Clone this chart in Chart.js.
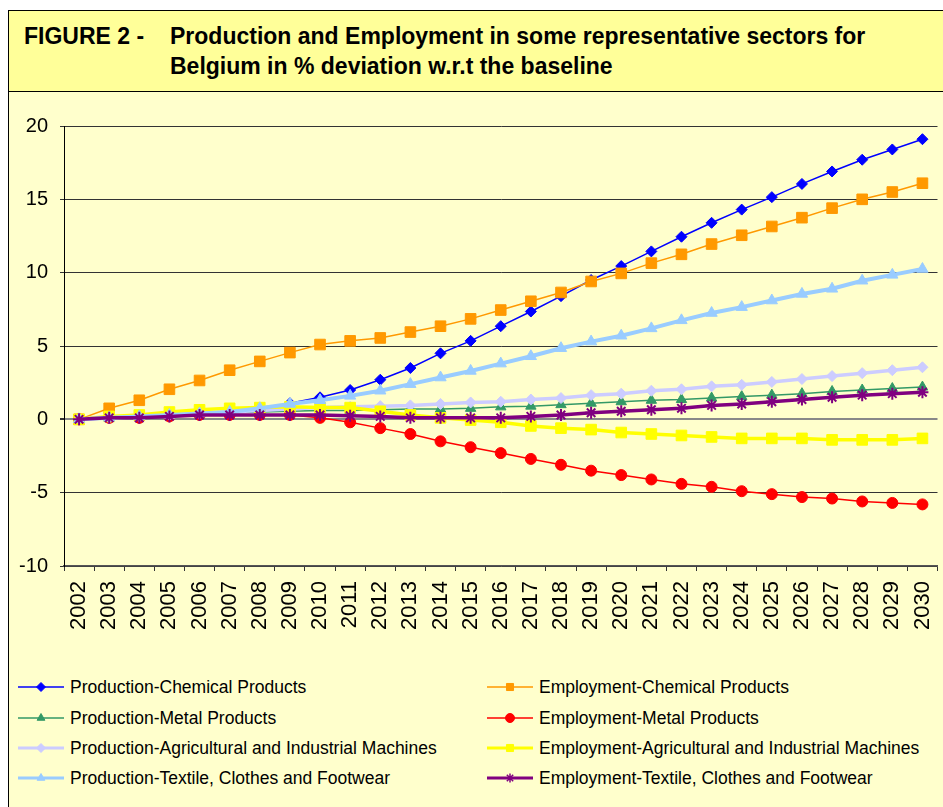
<!DOCTYPE html>
<html>
<head>
<meta charset="utf-8">
<script src="https://cdn.jsdelivr.net/npm/chart.js@4.4.1/dist/chart.umd.min.js"></script>
<style>
  html, body { margin: 0; padding: 0; background: #fff; overflow: hidden; width: 943px; height: 807px; }
  body { font-family: "Liberation Sans", Arial, sans-serif; position: relative; }
  #frame { position: absolute; left: 8px; top: 10px; width: 945px; height: 805px; background: #ffffcc; border-left: 1px solid #000; }
  #titleBox { position: absolute; left: 8px; top: 10px; width: 946px; height: 80px; background: #ffff99; border-top: 1px solid #000; border-bottom: 1px solid #000; border-left: 1px solid #000; }
  #titleLabel, #titleText { position: absolute; font-weight: bold; font-size: 23px; line-height: 30px; color: #000; }
  #titleLabel { left: 15px; top: 10px; }
  #titleText { left: 161px; top: 10px; }
  #chartBox { position: absolute; left: 9px; top: 91px; width: 937px; height: 560px; }
  #legend { position: absolute; left: 0; top: 0; }
  .item { position: absolute; height: 20px; display: flex; align-items: center; font-size: 17.5px; color: #000; white-space: nowrap; }
  .item canvas { margin-right: 6px; }
</style>
</head>
<body>
<div id="frame"></div>
<div id="titleBox">
  <div id="titleLabel">FIGURE 2 -</div>
  <div id="titleText">Production and Employment in some representative sectors for<br>Belgium in % deviation w.r.t the baseline</div>
</div>
<div id="chartBox"><canvas id="chart"></canvas></div>
<div id="legend"></div>
<script>
const years = ['2002', '2003', '2004', '2005', '2006', '2007', '2008', '2009', '2010', '2011',
  '2012', '2013', '2014', '2015', '2016', '2017', '2018', '2019', '2020', '2021',
  '2022', '2023', '2024', '2025', '2026', '2027', '2028', '2029', '2030'];

const prodChemical = [0, 0.1, 0.2, 0.3, 0.4, 0.5, 0.7, 1.1, 1.5, 2.0, 2.7, 3.5, 4.5, 5.35, 6.35,
  7.35, 8.4, 9.5, 10.45, 11.45, 12.45, 13.4, 14.3, 15.15, 16.05, 16.9, 17.7, 18.4, 19.1];
const empChemical = [0, 0.75, 1.3, 2.05, 2.65, 3.35, 3.95, 4.55, 5.1, 5.35, 5.55, 5.95, 6.35, 6.85, 7.45,
  8.05, 8.65, 9.4, 9.95, 10.65, 11.25, 11.95, 12.55, 13.15, 13.75, 14.4, 15.0, 15.5, 16.1];
const prodMetal = [0, 0.1, 0.15, 0.25, 0.35, 0.45, 0.5, 0.55, 0.6, 0.6, 0.65, 0.7, 0.7, 0.75, 0.85,
  0.9, 1.0, 1.1, 1.2, 1.3, 1.35, 1.45, 1.55, 1.65, 1.75, 1.9, 2.0, 2.1, 2.2];
const empMetal = [0, 0.1, 0.1, 0.2, 0.3, 0.3, 0.3, 0.3, 0.1, -0.2, -0.6, -1.0, -1.5, -1.9, -2.3,
  -2.7, -3.1, -3.5, -3.8, -4.1, -4.4, -4.6, -4.9, -5.1, -5.3, -5.4, -5.6, -5.7, -5.8];
const prodAgri = [0, 0.1, 0.2, 0.3, 0.4, 0.5, 0.6, 0.7, 0.8, 0.85, 0.9, 0.95, 1.05, 1.15, 1.2,
  1.35, 1.45, 1.65, 1.75, 1.95, 2.05, 2.25, 2.35, 2.55, 2.75, 2.95, 3.15, 3.35, 3.55];
const empAgri = [0, 0.2, 0.3, 0.5, 0.65, 0.75, 0.8, 0.85, 0.8, 0.8, 0.55, 0.3, 0.1, -0.05, -0.2,
  -0.45, -0.6, -0.7, -0.9, -1.0, -1.1, -1.2, -1.3, -1.3, -1.3, -1.4, -1.4, -1.4, -1.3];
const prodTextile = [0, 0.1, 0.2, 0.3, 0.4, 0.5, 0.75, 1.05, 1.3, 1.6, 1.95, 2.4, 2.85, 3.3, 3.8,
  4.3, 4.85, 5.3, 5.7, 6.2, 6.75, 7.25, 7.65, 8.1, 8.55, 8.9, 9.45, 9.85, 10.25];
const empTextile = [0, 0.1, 0.1, 0.2, 0.3, 0.3, 0.3, 0.3, 0.3, 0.25, 0.2, 0.1, 0.1, 0.1, 0.1,
  0.2, 0.3, 0.45, 0.55, 0.65, 0.75, 0.95, 1.05, 1.2, 1.35, 1.5, 1.65, 1.75, 1.85];

const yTicks = [-10, -5, 0, 5, 10, 15, 20];

// excel series order; later series sit on top
const seriesDefs = [
  { label: 'Production-Chemical Products', data: prodChemical, color: '#0000ff', style: 'rectRot', radius: 5.5, width: 1.5 },
  { label: 'Employment-Chemical Products', data: empChemical, color: '#ff9900', style: 'rect', radius: 7.5, width: 1.5 },
  { label: 'Production-Metal Products', data: prodMetal, color: '#339966', style: 'triangle', radius: 6, width: 1.5 },
  { label: 'Employment-Metal Products', data: empMetal, color: '#ff0000', style: 'circle', radius: 5.5, width: 1.5 },
  { label: 'Production-Agricultural and Industrial Machines', data: prodAgri, color: '#ccccff', style: 'rectRot', radius: 5.5, width: 3.5 },
  { label: 'Employment-Agricultural and Industrial Machines', data: empAgri, color: '#ffff00', style: 'rect', radius: 7.5, width: 3.5 },
  { label: 'Production-Textile, Clothes and Footwear', data: prodTextile, color: '#99ccff', style: 'triangle', radius: 6.5, width: 4 },
  { label: 'Employment-Textile, Clothes and Footwear', data: empTextile, color: '#800080', style: 'star', radius: 6, width: 3.5 },
];

function buildDatasets() {
  return seriesDefs.map((s, i) => ({
    label: s.label,
    data: s.data,
    borderColor: s.color,
    backgroundColor: s.color,
    borderWidth: s.width,
    pointStyle: s.style,
    pointRadius: s.radius,
    pointBackgroundColor: s.color,
    pointBorderColor: s.color,
    pointBorderWidth: s.style === 'star' ? 2 : 1,
    tension: 0,
    order: seriesDefs.length - i,
  }));
}

function buildChart() {
  const ctx = document.getElementById('chart');
  return new Chart(ctx, {
    type: 'line',
    data: { labels: years, datasets: buildDatasets() },
    options: {
      responsive: false,
      animation: false,
      layout: { padding: { top: 35, left: 0, right: 0, bottom: 0 } },
      plugins: { legend: { display: false }, tooltip: { enabled: false } },
      scales: {
        x: {
          type: 'category',
          offset: true,
          grid: { drawOnChartArea: false, offset: true, tickLength: 5, tickColor: '#333', tickWidth: 1 },
          border: { color: '#555', width: 1.5 },
          ticks: {
            color: '#000', font: { family: 'Liberation Sans', size: 22 },
            minRotation: 90, maxRotation: 90, padding: 10, autoSkip: false,
          },
          afterFit: (scale) => { scale.height = 85; scale.paddingLeft = 0; scale.paddingRight = 0; },
        },
        y: {
          min: -10, max: 20,
          afterBuildTicks: (scale) => { scale.ticks = yTicks.map((v) => ({ value: v })); },
          grid: {
            color: (c) => (c.tick && c.tick.value === 0 ? '#888' : '#333'),
            lineWidth: (c) => (c.tick && c.tick.value === 0 ? 2 : 1),
            tickLength: 4, tickColor: '#333',
          },
          border: { color: '#000', width: 1 },
          ticks: { color: '#000', font: { family: 'Liberation Sans', size: 20 }, padding: 12 },
          afterFit: (scale) => { scale.width = 55; },
        },
      },
    },
  });
}

function drawLegendSymbol(canvas, s) {
  const c = canvas.getContext('2d');
  c.strokeStyle = s.color;
  c.lineWidth = s.width > 2 ? 3 : 1.5;
  c.beginPath();
  c.moveTo(0, 10);
  c.lineTo(46, 10);
  c.stroke();
  c.fillStyle = s.color;
  c.lineWidth = s.style === 'star' ? 1.5 : 1;
  Chart.helpers.drawPoint(c, { pointStyle: s.style, radius: s.style === 'rect' ? 5 : 4.5, borderWidth: 1, rotation: 0 }, 23, 10);
}

function renderLegend() {
  const legend = document.getElementById('legend');
  const rows = [687, 718, 748, 778];
  seriesDefs.forEach((s, i) => {
    const col = i % 2;
    const row = Math.floor(i / 2);
    const item = document.createElement('div');
    item.className = 'item';
    item.style.left = (col === 0 ? 18 : 487) + 'px';
    item.style.top = (rows[row] - 10) + 'px';
    const cv = document.createElement('canvas');
    cv.width = 46;
    cv.height = 20;
    item.appendChild(cv);
    const span = document.createElement('span');
    span.textContent = s.label;
    item.appendChild(span);
    legend.appendChild(item);
    drawLegendSymbol(cv, s);
  });
}

function main() {
  const cv = document.getElementById('chart');
  cv.width = 937;
  cv.height = 560;
  buildChart();
  renderLegend();
}

document.addEventListener('DOMContentLoaded', main);
</script>
</body>
</html>
